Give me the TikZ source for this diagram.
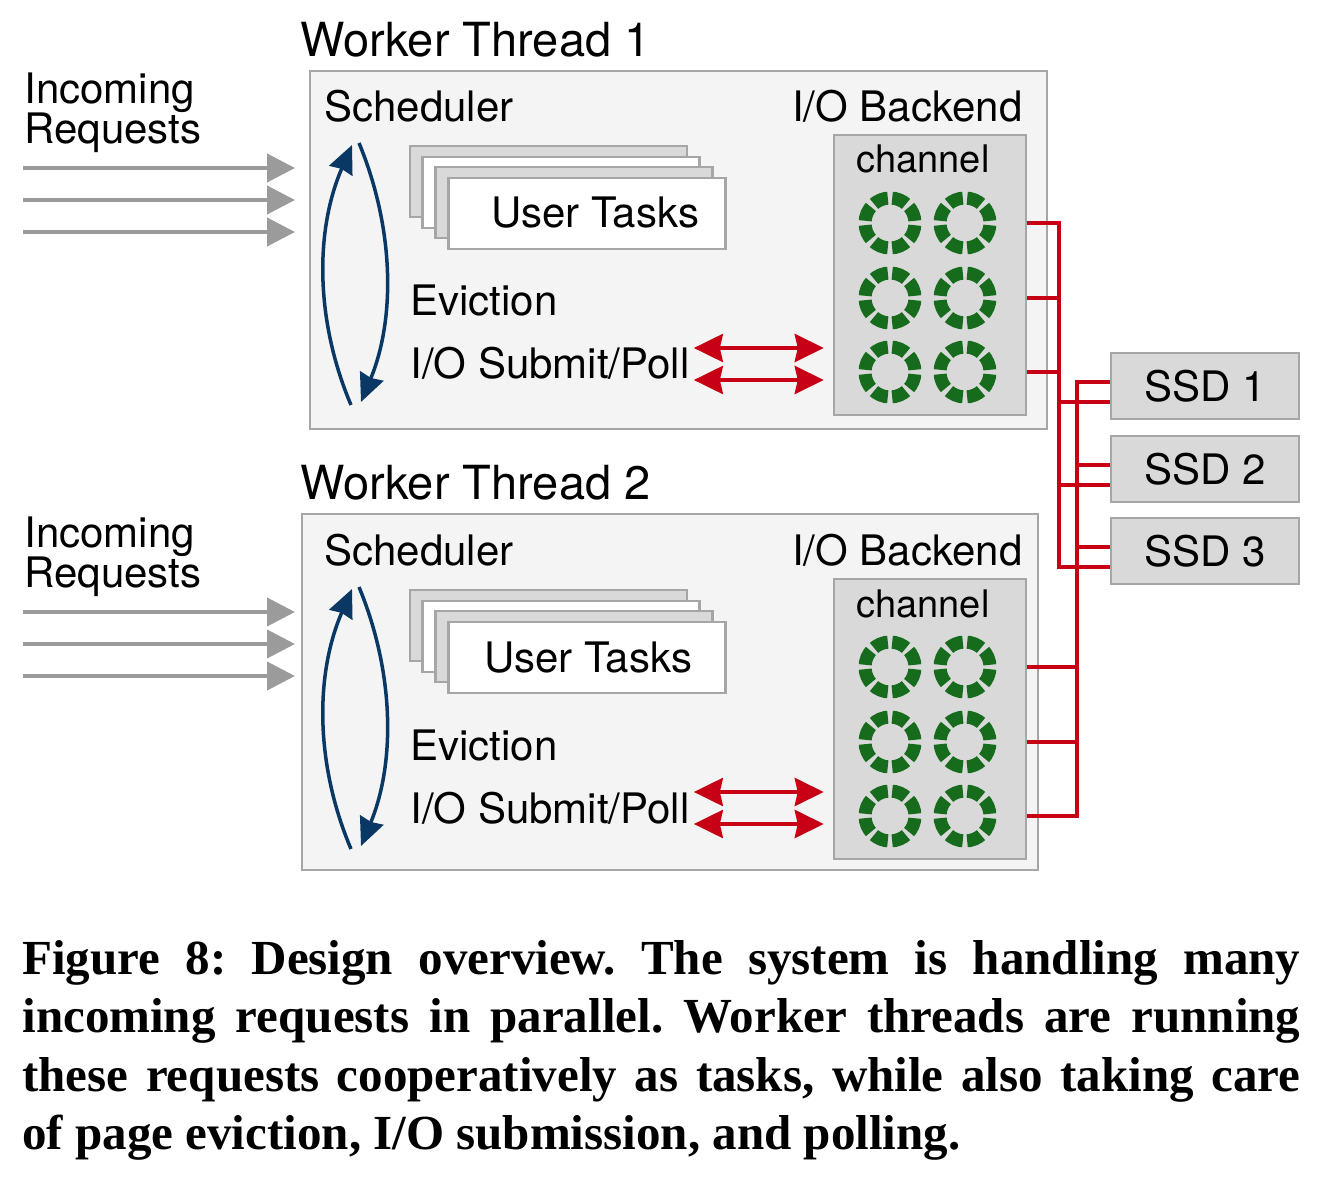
\documentclass[tikz,border=0pt]{standalone}
\usepackage{fontspec}
\setmainfont{TeX Gyre Heros}
\newfontfamily\capfont{Liberation Serif}
\usetikzlibrary{arrows.meta,positioning}
\definecolor{boxfill}{RGB}{244,244,244}
\definecolor{boxline}{RGB}{166,166,166}
\definecolor{chanfill}{RGB}{217,217,217}
\definecolor{ringgreen}{RGB}{22,108,28}
\definecolor{wirered}{RGB}{200,0,22}
\definecolor{schedblue}{RGB}{10,56,100}
\definecolor{reqgray}{RGB}{155,155,155}

\begin{document}
\begin{tikzpicture}[x=0.5pt,y=0.5pt,
  every node/.style={inner sep=0pt,font=\fontsize{21pt}{25pt}\selectfont},
  title/.style={anchor=base west,font=\fontsize{23.5pt}{27pt}\selectfont},
  label/.style={anchor=base west},
  wtbox/.style={draw=boxline,fill=boxfill,line width=1.25pt},
  chanbox/.style={draw=boxline,fill=chanfill,line width=1.25pt,minimum width=96pt,minimum height=140pt},
  taskbox/.style={draw=boxline,line width=1.25pt,minimum width=138.5pt,minimum height=35.5pt},
  ssdbox/.style={draw=boxline,fill=chanfill,line width=1.25pt,minimum width=94pt,minimum height=33pt},
  ring/.style={circle,draw=ringgreen,line width=6.5pt,minimum size=25pt,
    dash pattern=on 7.6pt off 2.2pt,dash phase=8.7pt},
  req/.style={draw=reqgray,line width=2pt,-{Triangle[length=14pt,width=14pt]}},
  iopoll/.style={draw=wirered,line width=2pt,
    {Stealth[length=14.5pt,width=14pt,inset=1.5pt]}-{Stealth[length=14.5pt,width=14pt,inset=1.5pt]},
    shorten <=2pt,shorten >=4.5pt},
  sched/.style={draw=schedblue,line width=1.75pt,-{Stealth[length=14pt,width=12.5pt,inset=1pt]}},
  wire/.style={draw=wirered,line width=2pt,line join=miter}
]
\useasboundingbox (0,0) rectangle (1320,-1181);

% worker thread 1
\node[title] (wt1title) at (300,-57) {Worker Thread 1};
\node[wtbox,minimum width=368.5pt,minimum height=179pt] (wt1) at (678.5,-250) {};
\node[label] (sched1) at (324,-122) {Scheduler};
\node[anchor=base east] (backend1) at (1023,-122) {I/O Backend};
\node[chanbox] (chan1) at (930,-275) {};
\node[label,font=\fontsize{19pt}{23pt}\selectfont] (chanlabel1) at (856,-173) {channel};
\foreach \r/\y in {1/223,2/298,3/372}
  \foreach \c/\x in {1/890,2/965}
    \node[ring] (ring1-\r-\c) at (\x,-\y) {};
\node[taskbox,fill=chanfill] (task1-a) at (548.5,-181.5) {};
\node[taskbox,fill=white] (task1-b) at (561,-192.5) {};
\node[taskbox,fill=chanfill] (task1-c) at (574,-202.5) {};
\node[taskbox,fill=white] (task1-d) at (587,-213.5) {};
\node[anchor=base] (tasks1) at (595,-228) {User Tasks};
\node[label] (evict1) at (410,-316) {Eviction};
\node[label] (io1) at (410,-379) {I/O Submit/Poll};
\coordinate (sa1) at (351,-405);
\coordinate (sb1) at (352,-145);
\coordinate (sc1) at (359,-143);
\coordinate (sd1) at (361,-402);
\draw[sched] (sa1) .. controls +(-36,85) and +(-37,-85) .. (sb1);
\draw[sched] (sc1) .. controls +(36,-87) and +(34,82) .. (sd1);
\coordinate (iotop1) at ([yshift=15.5pt]io1.base east);
\coordinate (iobot1) at ([yshift=-0.5pt]io1.base east);
\draw[iopoll] (iotop1) -- (iotop1 -| chan1.west);
\draw[iopoll] (iobot1) -- (iobot1 -| chan1.west);
\node[anchor=north west,align=left,font=\fontsize{21pt}{20pt}\selectfont] (inc1) at (24,-72) {Incoming\\Requests};
\foreach \i/\y in {1/168,2/200,3/232} {
  \coordinate (rq1-\i) at (23,-\y);
  \draw[req] (rq1-\i) -- ++(272,0);
}

% worker thread 2
\node[title] (wt2title) at (300,-499) {Worker Thread 2};
\node[wtbox,minimum width=368pt,minimum height=178pt] (wt2) at (670,-692) {};
\node[label] (sched2) at (324,-565) {Scheduler};
\node[anchor=base east] (backend2) at (1023,-565) {I/O Backend};
\node[chanbox] (chan2) at (930,-719) {};
\node[label,font=\fontsize{19pt}{23pt}\selectfont] (chanlabel2) at (856,-617) {channel};
\foreach \r/\y in {1/667,2/742,3/816}
  \foreach \c/\x in {1/890,2/965}
    \node[ring] (ring2-\r-\c) at (\x,-\y) {};
\node[taskbox,fill=chanfill] (task2-a) at (548.5,-625.5) {};
\node[taskbox,fill=white] (task2-b) at (561,-636.5) {};
\node[taskbox,fill=chanfill] (task2-c) at (574,-646.5) {};
\node[taskbox,fill=white] (task2-d) at (587,-657.5) {};
\node[anchor=base] (tasks2) at (588,-672) {User Tasks};
\node[label] (evict2) at (410,-760) {Eviction};
\node[label] (io2) at (410,-823) {I/O Submit/Poll};
\coordinate (sa2) at (351,-849);
\coordinate (sb2) at (352,-589);
\coordinate (sc2) at (359,-587);
\coordinate (sd2) at (361,-846);
\draw[sched] (sa2) .. controls +(-36,85) and +(-37,-85) .. (sb2);
\draw[sched] (sc2) .. controls +(36,-87) and +(34,82) .. (sd2);
\coordinate (iotop2) at ([yshift=15.5pt]io2.base east);
\coordinate (iobot2) at ([yshift=-0.5pt]io2.base east);
\draw[iopoll] (iotop2) -- (iotop2 -| chan2.west);
\draw[iopoll] (iobot2) -- (iobot2 -| chan2.west);
\node[anchor=north west,align=left,font=\fontsize{21pt}{20pt}\selectfont] (inc2) at (24,-516) {Incoming\\Requests};
\foreach \i/\y in {1/612,2/644,3/676} {
  \coordinate (rq2-\i) at (23,-\y);
  \draw[req] (rq2-\i) -- ++(272,0);
}

% SSDs and wiring
\node[ssdbox] (ssd1) at (1205,-386) {SSD 1};
\node[ssdbox,below=7.25pt of ssd1] (ssd2) {SSD 2};
\node[ssdbox,below=6.75pt of ssd2] (ssd3) {SSD 3};
\foreach \s in {1,2,3} {
  \coordinate (ssdup\s) at ([yshift=2pt]ssd\s.west);
  \coordinate (ssdlo\s) at ([yshift=-8pt]ssd\s.west);
}
\coordinate (bus1) at (1059,0);
\coordinate (bus2) at (1077,0);
\draw[wire] (chan1.east |- ring1-1-2) -| (bus1 |- ssdlo3) -- (ssdlo3);
\foreach \r in {2,3}
  \draw[wire] (chan1.east |- ring1-\r-2) -- (bus1 |- ring1-\r-2);
\foreach \s in {1,2}
  \draw[wire] (bus1 |- ssdlo\s) -- (ssdlo\s);
\draw[wire] (ssdup1) -| (bus2 |- ring2-3-2) -- (chan2.east |- ring2-3-2);
\foreach \r in {1,2}
  \draw[wire] (chan2.east |- ring2-\r-2) -- (bus2 |- ring2-\r-2);
\foreach \s in {2,3}
  \draw[wire] (bus2 |- ssdup\s) -- (ssdup\s);

% caption
\node[anchor=north west,text width=639pt,align=justify,
  font=\capfont\bfseries\fontsize{24.5pt}{29.2pt}\selectfont\frenchspacing] (caption) at (22,-940)
  {Figure 8: Design overview. The system is handling many\linebreak
   incoming requests in parallel. Worker threads are running\linebreak
   these requests cooperatively as tasks, while also taking care\linebreak
   of page eviction, I/O submission, and polling.};
\end{tikzpicture}
\end{document}
